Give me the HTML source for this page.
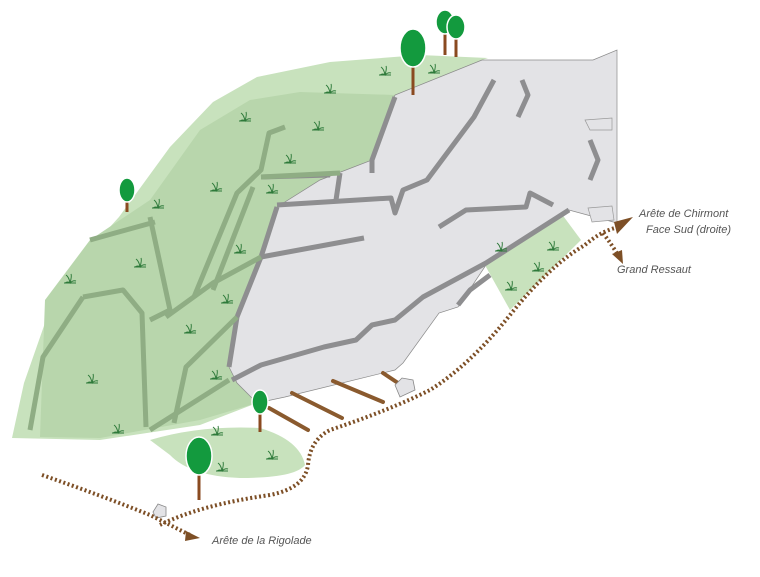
<!DOCTYPE html>
<html><head><meta charset="utf-8"><style>
html,body{margin:0;padding:0;background:#fff;}
svg{display:block}
text{font-family:"Liberation Sans",sans-serif;font-style:italic;font-size:11px;fill:#555;}
</style></head><body>
<svg width="760" height="577" viewBox="0 0 760 577" xmlns="http://www.w3.org/2000/svg">
<defs>
<g id="gr"><path d="M-5,3 Q-2,1 0,3 Q2,-4 1,-6 M0,3 Q-1,-3 -4,-5 M0,3 Q3,0 6,1 M-6,3 L6,3" stroke="#2e7a3a" stroke-width="1" fill="none"/></g>
</defs>
<!-- lower green patch -->
<path d="M150,440 Q200,425 260,428 Q300,440 305,465 Q295,478 240,478 Q190,476 170,455 Z" fill="#c8e2bd"/>
<!-- main green -->
<path d="M12,438 L24,383 L59,283 L119,217 L170,147 L213,102 L257,77 L330,62 L420,55 L488,58 L482,60 L395,95 L372,160 L320,180 L277,207 L261,257 L237,317 L229,367 L237,383 L257,403 L200,425 L100,440 Z" fill="#c8e2bd"/>
<path d="M40,437 L45,300 L90,240 L150,200 L200,130 L250,100 L300,92 L395,95 L372,160 L320,180 L277,207 L261,257 L237,317 L229,367 L237,383 L257,403 L200,420 L100,438 Z" fill="#b8d6ac"/>
<!-- right green -->
<path d="M482,253 L561,213 L581,240 L510,310 L486,267 Z" fill="#c8e2bd"/>
<!-- rock -->
<path d="M482,60 L593,60 L617,50 L617,223 L569,210 L486,265 L458,307 L439,313 L403,363 L395,370 L285,397 L257,403 L237,383 L229,367 L237,317 L261,257 L277,207 L320,180 L372,160 L395,95 Z" fill="#e3e3e6" stroke="#8a8a8a" stroke-width="0.7"/>
<path d="M588,208 L612,206 L614,220 L592,222 Z" fill="#e3e3e6" stroke="#999" stroke-width="0.7"/>
<path d="M585,120 L612,118 L612,130 L590,130 Z" fill="none" stroke="#999" stroke-width="0.7"/>
<!-- rock cracks -->
<g fill="none" stroke="#8e8e90" stroke-width="5" stroke-linejoin="round">
<path d="M395,97 L372,160 L372,173"/>
<path d="M340,173 L336,200"/>
<path d="M330,175 L261,177"/>
<path d="M277,205 L391,198 L395,213 L403,190 L427,180 L474,117 L494,80"/>
<path d="M261,257 L364,238"/>
<path d="M277,207 L261,257 L237,317 L229,367"/>
<path d="M232,380 L261,365 L324,347 L356,340 L372,325 L395,320 L423,297 L486,263 L569,210"/>
<path d="M439,227 L466,210 L526,207 L530,193 L553,205"/>
<path d="M522,80 L528,95 L518,117"/>
<path d="M458,305 L470,290 L490,275"/>
<path d="M590,140 L598,160 L590,180"/>
</g>
<!-- green cracks -->
<g fill="none" stroke="#8fad84" stroke-width="5" stroke-linejoin="round">
<path d="M150,217 L170,310 L150,320"/>
<path d="M83,297 L123,290 L142,313 L146,427"/>
<path d="M83,297 L43,357 L30,430"/>
<path d="M261,257 L213,283 L166,317"/>
<path d="M285,127 L269,133 L261,170 L237,193 L194,297"/>
<path d="M253,187 L213,290"/>
<path d="M261,177 L340,173"/>
<path d="M237,317 L186,367 L174,423"/>
<path d="M229,380 L150,430"/>
<path d="M90,240 L115,233 L155,222"/>
</g>
<!-- grass -->
<g>
<use href="#gr" x="385" y="72"/><use href="#gr" x="434" y="70"/><use href="#gr" x="330" y="90"/>
<use href="#gr" x="245" y="118"/><use href="#gr" x="318" y="127"/><use href="#gr" x="290" y="160"/>
<use href="#gr" x="216" y="188"/><use href="#gr" x="272" y="190"/><use href="#gr" x="158" y="205"/>
<use href="#gr" x="140" y="264"/><use href="#gr" x="70" y="280"/><use href="#gr" x="227" y="300"/>
<use href="#gr" x="190" y="330"/><use href="#gr" x="92" y="380"/><use href="#gr" x="216" y="376"/>
<use href="#gr" x="118" y="430"/><use href="#gr" x="217" y="432"/><use href="#gr" x="272" y="456"/>
<use href="#gr" x="222" y="468"/><use href="#gr" x="501" y="248"/><use href="#gr" x="553" y="247"/>
<use href="#gr" x="538" y="268"/><use href="#gr" x="511" y="287"/><use href="#gr" x="240" y="250"/>
</g>
<!-- planks -->
<g stroke="#8a5a2e" stroke-width="4" stroke-linecap="round">
<line x1="269" y1="408" x2="308" y2="430"/>
<line x1="292" y1="393" x2="342" y2="418"/>
<line x1="333" y1="381" x2="383" y2="402"/>
<line x1="383" y1="373" x2="398" y2="383"/>
</g>
<path d="M395,385 L402,378 L413,380 L415,390 L400,397 Z" fill="#e3e3e6" stroke="#888" stroke-width="0.8"/>
<path d="M153,512 L158,504 L166,507 L166,516 L156,518 Z" fill="#e3e3e6" stroke="#888" stroke-width="0.8"/>
<!-- dotted paths -->
<g fill="none" stroke="#7d4f26" stroke-width="4" stroke-dasharray="2 2.5">
<path d="M42,475 Q100,495 150,515 Q170,525 190,535"/>
<path d="M160,525 Q200,505 270,495 Q305,488 308,465 Q310,440 330,430 Q390,410 430,390 Q470,365 510,315 Q550,265 585,245 Q600,232 615,228"/>
<path d="M603,233 Q612,245 618,255"/>
</g>
<g fill="#7d4f26">
<path d="M186,531 L200,538 L185,541 Z"/>
<path d="M614,222 L633,217 L617,234 Z"/>
<path d="M612,254 L622,250 L623,264 Z"/>
</g>
<!-- trees -->
<g>
<g stroke="#8a4a20" stroke-width="3"><line x1="413" y1="60" x2="413" y2="95"/><line x1="445" y1="30" x2="445" y2="55"/><line x1="456" y1="35" x2="456" y2="57"/><line x1="127" y1="198" x2="127" y2="212"/><line x1="260" y1="410" x2="260" y2="432"/><line x1="199" y1="468" x2="199" y2="500"/></g>
<g fill="#139a3e" stroke="#fff" stroke-width="1.5">
<ellipse cx="413" cy="48" rx="13" ry="19"/>
<ellipse cx="445" cy="22" rx="9" ry="12"/>
<ellipse cx="456" cy="27" rx="9" ry="12"/>
<ellipse cx="127" cy="190" rx="8" ry="12"/>
<ellipse cx="260" cy="402" rx="8" ry="12"/>
<ellipse cx="199" cy="456" rx="13" ry="19"/>
</g>
</g>
<!-- labels -->
<text x="639" y="217">Arête de Chirmont</text>
<text x="646" y="233">Face Sud (droite)</text>
<text x="617" y="273">Grand Ressaut</text>
<text x="212" y="544">Arête de la Rigolade</text>
</svg>
</body></html>
